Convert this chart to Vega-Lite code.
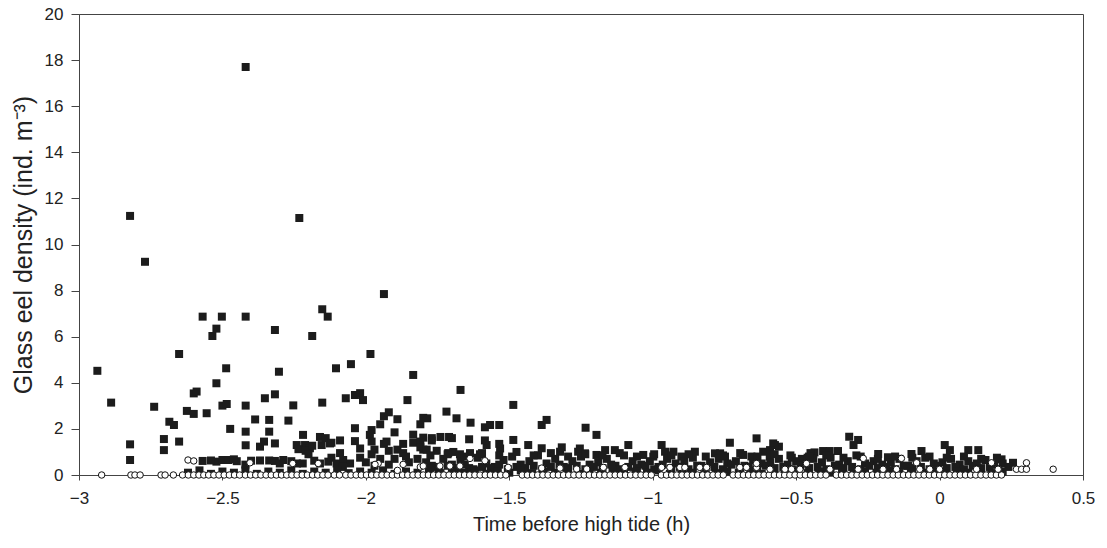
{
  "$schema": "https://vega.github.io/schema/vega-lite/v6.json",
  "width": 1004,
  "height": 461,
  "autosize": "none",
  "padding": {"left": 79, "top": 14, "right": 24, "bottom": 73},
  "background": "white",
  "config": {
    "view": {"stroke": "#444", "strokeWidth": 1},
    "axis": {
      "grid": false,
      "domainColor": "#444",
      "tickColor": "#444",
      "labelFont": "Liberation Sans",
      "titleFont": "Liberation Sans",
      "labelFontSize": 17,
      "titleFontSize": 20,
      "titleFontWeight": "normal",
      "labelColor": "#222",
      "titleColor": "#222",
      "labelFlush": false
    }
  },
  "datasets": {
    "squares": [
      {"time": -2.936, "density": 4.52}, {"time": -2.888, "density": 3.14}, {"time": -2.822, "density": 11.24},
      {"time": -2.77, "density": 9.25}, {"time": -2.822, "density": 1.33}, {"time": -2.822, "density": 0.65},
      {"time": -2.738, "density": 2.96}, {"time": -2.704, "density": 1.56}, {"time": -2.704, "density": 1.08},
      {"time": -2.685, "density": 2.31}, {"time": -2.669, "density": 2.17}, {"time": -2.651, "density": 5.25},
      {"time": -2.651, "density": 1.45}, {"time": -2.624, "density": 2.78}, {"time": -2.6, "density": 3.54},
      {"time": -2.59, "density": 3.62}, {"time": -2.6, "density": 2.65}, {"time": -2.569, "density": 6.87},
      {"time": -2.569, "density": 0.61}, {"time": -2.555, "density": 2.68}, {"time": -2.535, "density": 6.03},
      {"time": -2.521, "density": 6.35}, {"time": -2.521, "density": 3.98}, {"time": -2.521, "density": 0.58},
      {"time": -2.502, "density": 6.87}, {"time": -2.487, "density": 4.63}, {"time": -2.5, "density": 3.01},
      {"time": -2.485, "density": 3.08}, {"time": -2.473, "density": 2.0}, {"time": -2.5, "density": 0.65},
      {"time": -2.48, "density": 0.65}, {"time": -2.419, "density": 17.7}, {"time": -2.419, "density": 6.87},
      {"time": -2.419, "density": 3.01}, {"time": -2.419, "density": 1.88}, {"time": -2.419, "density": 1.29},
      {"time": -2.45, "density": 0.6}, {"time": -2.42, "density": 0.45}, {"time": -2.386, "density": 2.41},
      {"time": -2.369, "density": 1.23}, {"time": -2.355, "density": 1.45}, {"time": -2.369, "density": 0.63},
      {"time": -2.352, "density": 3.33}, {"time": -2.337, "density": 2.39}, {"time": -2.337, "density": 1.88},
      {"time": -2.317, "density": 6.29}, {"time": -2.317, "density": 3.5}, {"time": -2.317, "density": 1.37},
      {"time": -2.337, "density": 0.63}, {"time": -2.317, "density": 0.61}, {"time": -2.3, "density": 0.5},
      {"time": -2.288, "density": 0.65}, {"time": -2.303, "density": 4.48}, {"time": -2.27, "density": 2.36},
      {"time": -2.253, "density": 3.02}, {"time": -2.24, "density": 0.5}, {"time": -2.22, "density": 0.5},
      {"time": -2.241, "density": 1.3}, {"time": -2.212, "density": 1.3}, {"time": -2.195, "density": 1.16},
      {"time": -2.232, "density": 11.15}, {"time": -2.219, "density": 1.74}, {"time": -2.235, "density": 1.12},
      {"time": -2.21, "density": 1.05}, {"time": -2.2, "density": 0.9}, {"time": -2.187, "density": 6.03},
      {"time": -2.187, "density": 1.27}, {"time": -2.16, "density": 1.65}, {"time": -2.14, "density": 1.6},
      {"time": -2.152, "density": 7.19}, {"time": -2.133, "density": 6.87}, {"time": -2.152, "density": 3.14},
      {"time": -2.154, "density": 1.3}, {"time": -2.125, "density": 1.37}, {"time": -2.16, "density": 0.5},
      {"time": -2.131, "density": 0.58}, {"time": -2.12, "density": 1.4}, {"time": -2.12, "density": 0.75},
      {"time": -2.104, "density": 4.63}, {"time": -2.09, "density": 1.5}, {"time": -2.09, "density": 0.95},
      {"time": -2.102, "density": 0.5}, {"time": -2.079, "density": 0.65}, {"time": -2.055, "density": 0.5},
      {"time": -2.08, "density": 0.35}, {"time": -2.07, "density": 3.33}, {"time": -2.052, "density": 4.81},
      {"time": -2.038, "density": 3.47}, {"time": -2.038, "density": 2.03}, {"time": -2.038, "density": 1.47},
      {"time": -2.02, "density": 3.55}, {"time": -2.01, "density": 3.25}, {"time": -2.02, "density": 1.15},
      {"time": -2.02, "density": 0.75}, {"time": -1.984, "density": 5.25}, {"time": -1.98, "density": 1.95},
      {"time": -1.986, "density": 1.74}, {"time": -1.98, "density": 1.45}, {"time": -1.98, "density": 0.9},
      {"time": -1.97, "density": 1.1}, {"time": -1.97, "density": 0.4}, {"time": -1.937, "density": 7.85},
      {"time": -1.937, "density": 2.55}, {"time": -1.92, "density": 2.72}, {"time": -1.937, "density": 1.35},
      {"time": -1.928, "density": 1.45}, {"time": -1.95, "density": 2.2}, {"time": -1.92, "density": 1.05},
      {"time": -1.92, "density": 0.45}, {"time": -1.89, "density": 2.42}, {"time": -1.9, "density": 1.85},
      {"time": -1.9, "density": 0.7}, {"time": -1.89, "density": 1.1}, {"time": -1.87, "density": 1.35},
      {"time": -1.87, "density": 0.95}, {"time": -1.855, "density": 3.25}, {"time": -1.835, "density": 4.34},
      {"time": -1.835, "density": 1.75}, {"time": -1.835, "density": 1.4}, {"time": -1.86, "density": 0.8},
      {"time": -1.82, "density": 0.7}, {"time": -1.81, "density": 2.2}, {"time": -1.8, "density": 2.48},
      {"time": -1.81, "density": 1.45}, {"time": -1.8, "density": 1.1}, {"time": -1.77, "density": 1.5},
      {"time": -1.77, "density": 0.4}, {"time": -1.719, "density": 2.75}, {"time": -1.67, "density": 3.69},
      {"time": -1.684, "density": 2.46}, {"time": -1.786, "density": 2.46}, {"time": -1.635, "density": 2.27},
      {"time": -1.585, "density": 2.07}, {"time": -1.567, "density": 2.17}, {"time": -1.535, "density": 2.17},
      {"time": -1.486, "density": 3.04}, {"time": -1.387, "density": 2.17}, {"time": -1.37, "density": 2.39},
      {"time": -1.234, "density": 2.05}, {"time": -1.196, "density": 1.74}, {"time": -1.8, "density": 1.62},
      {"time": -1.77, "density": 1.6}, {"time": -1.74, "density": 1.65}, {"time": -1.71, "density": 1.65},
      {"time": -1.7, "density": 1.6}, {"time": -1.64, "density": 1.55}, {"time": -1.81, "density": 1.2},
      {"time": -1.788, "density": 1.1}, {"time": -1.753, "density": 1.05}, {"time": -1.713, "density": 0.95},
      {"time": -1.695, "density": 1.0}, {"time": -1.672, "density": 0.9}, {"time": -1.637, "density": 0.95},
      {"time": -1.602, "density": 0.9}, {"time": -1.579, "density": 1.3}, {"time": -1.532, "density": 1.15},
      {"time": -1.585, "density": 1.5}, {"time": -1.535, "density": 1.35}, {"time": -1.486, "density": 1.52},
      {"time": -1.434, "density": 1.3}, {"time": -1.387, "density": 1.16}, {"time": -1.323, "density": 1.01},
      {"time": -1.317, "density": 1.2}, {"time": -1.26, "density": 1.01}, {"time": -1.254, "density": 1.15},
      {"time": -1.236, "density": 0.94}, {"time": -1.196, "density": 0.87}, {"time": -1.085, "density": 1.3},
      {"time": -0.969, "density": 1.3}, {"time": -0.928, "density": 1.01}, {"time": -0.853, "density": 1.01},
      {"time": -0.731, "density": 1.4}, {"time": -0.638, "density": 1.59}, {"time": -0.58, "density": 1.37},
      {"time": -1.166, "density": 1.08}, {"time": -1.132, "density": 1.08}, {"time": -1.033, "density": 0.87},
      {"time": -0.998, "density": 0.8}, {"time": -0.957, "density": 1.01}, {"time": -0.9, "density": 0.8},
      {"time": -0.783, "density": 0.94}, {"time": -0.765, "density": 0.94}, {"time": -0.748, "density": 0.8},
      {"time": -0.685, "density": 0.87}, {"time": -0.656, "density": 0.8}, {"time": -0.615, "density": 1.01},
      {"time": -0.592, "density": 0.8}, {"time": -0.56, "density": 1.23}, {"time": -0.315, "density": 1.66},
      {"time": -0.284, "density": 1.52}, {"time": -0.3, "density": 1.3}, {"time": -0.574, "density": 1.3},
      {"time": -0.591, "density": 1.08}, {"time": 0.018, "density": 1.3}, {"time": 0.036, "density": 1.08},
      {"time": -0.063, "density": 1.04}, {"time": 0.1, "density": 1.08}, {"time": 0.135, "density": 1.08},
      {"time": -0.406, "density": 1.04}, {"time": -0.383, "density": 1.04}, {"time": -0.354, "density": 1.04},
      {"time": -0.436, "density": 0.98}, {"time": -0.45, "density": 0.95}, {"time": -0.214, "density": 0.91},
      {"time": -0.18, "density": 0.77}, {"time": -0.098, "density": 0.91}, {"time": 0.216, "density": 0.68},
      {"time": 0.256, "density": 0.53}, {"time": -0.52, "density": 0.85}, {"time": -0.48, "density": 0.7},
      {"time": -0.46, "density": 0.75},
      {"time": -2.54, "density": 0.63}, {"time": -2.46, "density": 0.68}, {"time": -2.4, "density": 0.62},
      {"time": -2.26, "density": 0.6}, {"time": -2.18, "density": 0.62}, {"time": -2.0, "density": 0.55},
      {"time": -1.95, "density": 0.7}, {"time": -1.85, "density": 0.55},
      {"time": -1.79, "density": 0.55}, {"time": -1.76, "density": 0.35}, {"time": -1.73, "density": 0.7},
      {"time": -1.7, "density": 0.45}, {"time": -1.67, "density": 0.6}, {"time": -1.64, "density": 0.3},
      {"time": -1.61, "density": 0.75}, {"time": -1.58, "density": 0.5}, {"time": -1.55, "density": 0.35},
      {"time": -1.52, "density": 0.65}, {"time": -1.49, "density": 0.8}, {"time": -1.46, "density": 0.45},
      {"time": -1.43, "density": 0.6}, {"time": -1.4, "density": 0.85}, {"time": -1.37, "density": 0.5},
      {"time": -1.34, "density": 0.7}, {"time": -1.31, "density": 0.35}, {"time": -1.28, "density": 0.6},
      {"time": -1.25, "density": 0.8}, {"time": -1.22, "density": 0.45}, {"time": -1.19, "density": 0.55},
      {"time": -1.16, "density": 0.7}, {"time": -1.13, "density": 0.4}, {"time": -1.1, "density": 0.85},
      {"time": -1.07, "density": 0.6}, {"time": -1.04, "density": 0.45}, {"time": -1.01, "density": 0.6},
      {"time": -0.98, "density": 0.35}, {"time": -0.95, "density": 0.7}, {"time": -0.92, "density": 0.5},
      {"time": -0.89, "density": 0.6}, {"time": -0.86, "density": 0.75}, {"time": -0.83, "density": 0.4},
      {"time": -0.8, "density": 0.55}, {"time": -0.77, "density": 0.7}, {"time": -0.74, "density": 0.5},
      {"time": -0.71, "density": 0.6}, {"time": -0.68, "density": 0.4}, {"time": -0.65, "density": 0.65},
      {"time": -0.62, "density": 0.5}, {"time": -0.59, "density": 0.55}, {"time": -0.56, "density": 0.7},
      {"time": -0.53, "density": 0.45}, {"time": -0.5, "density": 0.6}, {"time": -0.47, "density": 0.5},
      {"time": -0.44, "density": 0.7}, {"time": -0.41, "density": 0.55}, {"time": -0.38, "density": 0.75},
      {"time": -0.35, "density": 0.45}, {"time": -0.32, "density": 0.6}, {"time": -0.29, "density": 0.85},
      {"time": -0.26, "density": 0.5}, {"time": -0.23, "density": 0.6}, {"time": -0.2, "density": 0.45},
      {"time": -0.17, "density": 0.55}, {"time": -0.14, "density": 0.7}, {"time": -0.11, "density": 0.4},
      {"time": -0.08, "density": 0.6}, {"time": -0.05, "density": 0.75}, {"time": -0.02, "density": 0.5},
      {"time": 0.01, "density": 0.55}, {"time": 0.04, "density": 0.7}, {"time": 0.07, "density": 0.45},
      {"time": 0.1, "density": 0.6}, {"time": 0.13, "density": 0.5}, {"time": 0.16, "density": 0.65},
      {"time": 0.19, "density": 0.45}, {"time": 0.22, "density": 0.5}, {"time": 0.24, "density": 0.35},
      {"time": -1.775, "density": 0.3}, {"time": -1.745, "density": 0.25}, {"time": -1.715, "density": 0.4},
      {"time": -1.685, "density": 0.3}, {"time": -1.655, "density": 0.45}, {"time": -1.625, "density": 0.25},
      {"time": -1.595, "density": 0.35}, {"time": -1.565, "density": 0.3}, {"time": -1.535, "density": 0.45},
      {"time": -1.505, "density": 0.25}, {"time": -1.475, "density": 0.35}, {"time": -1.445, "density": 0.3},
      {"time": -1.415, "density": 0.4}, {"time": -1.385, "density": 0.25}, {"time": -1.355, "density": 0.35},
      {"time": -1.325, "density": 0.45}, {"time": -1.295, "density": 0.3}, {"time": -1.265, "density": 0.4},
      {"time": -1.235, "density": 0.25}, {"time": -1.205, "density": 0.35}, {"time": -1.175, "density": 0.3},
      {"time": -1.145, "density": 0.45}, {"time": -1.115, "density": 0.25}, {"time": -1.085, "density": 0.35},
      {"time": -1.055, "density": 0.3}, {"time": -1.025, "density": 0.4}, {"time": -0.995, "density": 0.25},
      {"time": -0.965, "density": 0.45}, {"time": -0.935, "density": 0.3}, {"time": -0.905, "density": 0.35},
      {"time": -0.875, "density": 0.25}, {"time": -0.845, "density": 0.4}, {"time": -0.815, "density": 0.3},
      {"time": -0.785, "density": 0.35}, {"time": -0.755, "density": 0.25}, {"time": -0.725, "density": 0.45},
      {"time": -0.695, "density": 0.3}, {"time": -0.665, "density": 0.35}, {"time": -0.635, "density": 0.25},
      {"time": -0.605, "density": 0.4}, {"time": -0.575, "density": 0.3}, {"time": -0.545, "density": 0.35},
      {"time": -0.515, "density": 0.25}, {"time": -0.485, "density": 0.4}, {"time": -0.455, "density": 0.3},
      {"time": -0.425, "density": 0.35}, {"time": -0.395, "density": 0.25}, {"time": -0.365, "density": 0.4},
      {"time": -0.335, "density": 0.3}, {"time": -0.305, "density": 0.35}, {"time": -0.275, "density": 0.25},
      {"time": -0.245, "density": 0.4}, {"time": -0.215, "density": 0.3}, {"time": -0.185, "density": 0.35},
      {"time": -0.155, "density": 0.25}, {"time": -0.125, "density": 0.4}, {"time": -0.095, "density": 0.3},
      {"time": -0.065, "density": 0.35}, {"time": -0.035, "density": 0.25}, {"time": -0.005, "density": 0.4},
      {"time": 0.025, "density": 0.3}, {"time": 0.055, "density": 0.35}, {"time": 0.085, "density": 0.25},
      {"time": 0.115, "density": 0.4}, {"time": 0.145, "density": 0.3}, {"time": 0.175, "density": 0.35},
      {"time": 0.205, "density": 0.25},
      {"time": -1.775, "density": 0.85}, {"time": -1.715, "density": 0.9}, {"time": -1.655, "density": 0.8},
      {"time": -1.595, "density": 0.95}, {"time": -1.535, "density": 0.85}, {"time": -1.475, "density": 1.0},
      {"time": -1.415, "density": 0.85}, {"time": -1.355, "density": 0.95}, {"time": -1.295, "density": 0.8},
      {"time": -1.235, "density": 0.9}, {"time": -1.175, "density": 0.85}, {"time": -1.115, "density": 0.95},
      {"time": -1.055, "density": 0.8}, {"time": -0.995, "density": 0.9}, {"time": -0.935, "density": 0.85},
      {"time": -0.875, "density": 0.9}, {"time": -0.815, "density": 0.8}, {"time": -0.755, "density": 0.85},
      {"time": -0.695, "density": 0.95}, {"time": -0.635, "density": 0.8}, {"time": -0.575, "density": 0.9},
      {"time": -0.515, "density": 0.75}, {"time": -0.455, "density": 0.8}, {"time": -0.395, "density": 0.85},
      {"time": -0.335, "density": 0.75}, {"time": -0.275, "density": 0.8}, {"time": -0.215, "density": 0.7},
      {"time": -0.155, "density": 0.8}, {"time": -0.095, "density": 0.75}, {"time": -0.035, "density": 0.8},
      {"time": 0.025, "density": 0.75}, {"time": 0.085, "density": 0.8}, {"time": 0.145, "density": 0.7},
      {"time": 0.2, "density": 0.75},
      {"time": -2.62, "density": 0.1}, {"time": -2.58, "density": 0.2}, {"time": -2.54, "density": 0.05},
      {"time": -2.5, "density": 0.15}, {"time": -2.46, "density": 0.1}, {"time": -2.42, "density": 0.2},
      {"time": -2.38, "density": 0.05}, {"time": -2.34, "density": 0.15}, {"time": -2.3, "density": 0.1},
      {"time": -2.26, "density": 0.2}, {"time": -2.22, "density": 0.05}, {"time": -2.18, "density": 0.15},
      {"time": -2.14, "density": 0.1}, {"time": -2.1, "density": 0.2}, {"time": -2.06, "density": 0.08},
      {"time": -2.02, "density": 0.15}, {"time": -1.98, "density": 0.1}, {"time": -1.94, "density": 0.2},
      {"time": -1.9, "density": 0.05}, {"time": -1.86, "density": 0.15}, {"time": -1.82, "density": 0.1},
      {"time": -1.78, "density": 0.2}, {"time": -1.74, "density": 0.08}, {"time": -1.7, "density": 0.15},
      {"time": -1.66, "density": 0.1}, {"time": -1.62, "density": 0.2}, {"time": -1.58, "density": 0.05},
      {"time": -1.54, "density": 0.15}, {"time": -1.5, "density": 0.1}, {"time": -1.46, "density": 0.2},
      {"time": -1.42, "density": 0.08}, {"time": -1.38, "density": 0.15}, {"time": -1.34, "density": 0.1},
      {"time": -1.3, "density": 0.2}, {"time": -1.26, "density": 0.05}, {"time": -1.22, "density": 0.15},
      {"time": -1.18, "density": 0.1}, {"time": -1.14, "density": 0.2}, {"time": -1.1, "density": 0.08},
      {"time": -1.06, "density": 0.15}, {"time": -1.02, "density": 0.1}, {"time": -0.98, "density": 0.2},
      {"time": -0.94, "density": 0.05}, {"time": -0.9, "density": 0.15}, {"time": -0.86, "density": 0.1},
      {"time": -0.82, "density": 0.2}, {"time": -0.78, "density": 0.08}, {"time": -0.74, "density": 0.15},
      {"time": -0.7, "density": 0.1}, {"time": -0.66, "density": 0.2}, {"time": -0.62, "density": 0.05},
      {"time": -0.58, "density": 0.15}, {"time": -0.54, "density": 0.1}, {"time": -0.5, "density": 0.2},
      {"time": -0.46, "density": 0.08}, {"time": -0.42, "density": 0.15}, {"time": -0.38, "density": 0.1},
      {"time": -0.34, "density": 0.2}, {"time": -0.3, "density": 0.05}, {"time": -0.26, "density": 0.15},
      {"time": -0.22, "density": 0.1}, {"time": -0.18, "density": 0.2}, {"time": -0.14, "density": 0.08},
      {"time": -0.1, "density": 0.15}, {"time": -0.06, "density": 0.1}, {"time": -0.02, "density": 0.2},
      {"time": 0.02, "density": 0.05}, {"time": 0.06, "density": 0.15}, {"time": 0.1, "density": 0.1},
      {"time": 0.14, "density": 0.2}, {"time": 0.18, "density": 0.08}, {"time": 0.22, "density": 0.15}
    ],
    "circles": [
      {"time": -2.921, "density": 0}, {"time": -2.819, "density": 0}, {"time": -2.805, "density": 0},
      {"time": -2.787, "density": 0}, {"time": -2.714, "density": 0}, {"time": -2.7, "density": 0},
      {"time": -2.671, "density": 0}, {"time": -2.639, "density": 0}, {"time": -2.619, "density": 0},
      {"time": -2.6, "density": 0}, {"time": -2.582, "density": 0}, {"time": -2.565, "density": 0},
      {"time": -2.548, "density": 0}, {"time": -2.53, "density": 0}, {"time": -2.512, "density": 0},
      {"time": -2.494, "density": 0}, {"time": -2.476, "density": 0}, {"time": -2.458, "density": 0},
      {"time": -2.44, "density": 0}, {"time": -2.42, "density": 0}, {"time": -2.402, "density": 0},
      {"time": -2.384, "density": 0}, {"time": -2.366, "density": 0}, {"time": -2.348, "density": 0},
      {"time": -2.33, "density": 0}, {"time": -2.312, "density": 0}, {"time": -2.294, "density": 0},
      {"time": -2.276, "density": 0}, {"time": -2.258, "density": 0}, {"time": -2.24, "density": 0},
      {"time": -2.222, "density": 0}, {"time": -2.204, "density": 0}, {"time": -2.186, "density": 0},
      {"time": -2.168, "density": 0}, {"time": -2.15, "density": 0}, {"time": -2.132, "density": 0},
      {"time": -2.11, "density": 0}, {"time": -2.092, "density": 0}, {"time": -2.07, "density": 0},
      {"time": -2.052, "density": 0}, {"time": -2.034, "density": 0}, {"time": -2.016, "density": 0},
      {"time": -1.998, "density": 0}, {"time": -1.98, "density": 0}, {"time": -1.962, "density": 0},
      {"time": -1.944, "density": 0}, {"time": -1.926, "density": 0}, {"time": -1.908, "density": 0},
      {"time": -1.89, "density": 0}, {"time": -1.872, "density": 0}, {"time": -1.854, "density": 0},
      {"time": -1.836, "density": 0}, {"time": -1.818, "density": 0}, {"time": -1.8, "density": 0},
      {"time": -1.782, "density": 0}, {"time": -1.764, "density": 0}, {"time": -1.746, "density": 0},
      {"time": -1.728, "density": 0}, {"time": -1.71, "density": 0}, {"time": -1.692, "density": 0},
      {"time": -1.674, "density": 0}, {"time": -1.656, "density": 0}, {"time": -1.638, "density": 0},
      {"time": -1.62, "density": 0}, {"time": -1.602, "density": 0}, {"time": -1.584, "density": 0},
      {"time": -1.566, "density": 0}, {"time": -1.548, "density": 0}, {"time": -1.53, "density": 0},
      {"time": -1.512, "density": 0}, {"time": -1.455, "density": 0}, {"time": -1.437, "density": 0},
      {"time": -1.419, "density": 0}, {"time": -1.401, "density": 0}, {"time": -1.383, "density": 0},
      {"time": -1.365, "density": 0}, {"time": -1.347, "density": 0}, {"time": -1.329, "density": 0},
      {"time": -1.311, "density": 0}, {"time": -1.293, "density": 0}, {"time": -1.275, "density": 0},
      {"time": -1.257, "density": 0}, {"time": -1.239, "density": 0}, {"time": -1.221, "density": 0},
      {"time": -1.203, "density": 0}, {"time": -1.185, "density": 0}, {"time": -1.167, "density": 0},
      {"time": -1.149, "density": 0}, {"time": -1.131, "density": 0}, {"time": -1.113, "density": 0},
      {"time": -1.095, "density": 0}, {"time": -1.077, "density": 0}, {"time": -1.059, "density": 0},
      {"time": -1.041, "density": 0}, {"time": -1.023, "density": 0}, {"time": -1.005, "density": 0},
      {"time": -0.97, "density": 0}, {"time": -0.952, "density": 0}, {"time": -0.934, "density": 0},
      {"time": -0.916, "density": 0}, {"time": -0.898, "density": 0}, {"time": -0.88, "density": 0},
      {"time": -0.862, "density": 0}, {"time": -0.844, "density": 0}, {"time": -0.826, "density": 0},
      {"time": -0.808, "density": 0}, {"time": -0.79, "density": 0}, {"time": -0.772, "density": 0},
      {"time": -0.754, "density": 0}, {"time": -0.72, "density": 0}, {"time": -0.702, "density": 0},
      {"time": -0.684, "density": 0}, {"time": -0.666, "density": 0}, {"time": -0.648, "density": 0},
      {"time": -0.63, "density": 0}, {"time": -0.612, "density": 0}, {"time": -0.594, "density": 0},
      {"time": -0.576, "density": 0}, {"time": -0.558, "density": 0}, {"time": -0.54, "density": 0},
      {"time": -0.522, "density": 0}, {"time": -0.504, "density": 0}, {"time": -0.486, "density": 0},
      {"time": -0.468, "density": 0}, {"time": -0.45, "density": 0}, {"time": -0.432, "density": 0},
      {"time": -0.414, "density": 0}, {"time": -0.396, "density": 0}, {"time": -0.36, "density": 0},
      {"time": -0.342, "density": 0}, {"time": -0.324, "density": 0}, {"time": -0.306, "density": 0},
      {"time": -0.288, "density": 0}, {"time": -0.27, "density": 0}, {"time": -0.252, "density": 0},
      {"time": -0.234, "density": 0}, {"time": -0.216, "density": 0}, {"time": -0.198, "density": 0},
      {"time": -0.18, "density": 0}, {"time": -0.162, "density": 0}, {"time": -0.144, "density": 0},
      {"time": -0.126, "density": 0}, {"time": -0.108, "density": 0}, {"time": -0.09, "density": 0},
      {"time": -0.072, "density": 0}, {"time": -0.054, "density": 0}, {"time": -0.036, "density": 0},
      {"time": -0.018, "density": 0}, {"time": 0.0, "density": 0}, {"time": 0.018, "density": 0},
      {"time": 0.036, "density": 0}, {"time": 0.054, "density": 0}, {"time": 0.072, "density": 0},
      {"time": 0.09, "density": 0}, {"time": 0.108, "density": 0}, {"time": 0.126, "density": 0},
      {"time": 0.144, "density": 0}, {"time": 0.162, "density": 0}, {"time": 0.18, "density": 0},
      {"time": 0.198, "density": 0}, {"time": 0.216, "density": 0},
      {"time": -2.62, "density": 0.65}, {"time": -2.6, "density": 0.61}, {"time": -2.404, "density": 0.53},
      {"time": -2.255, "density": 0.5}, {"time": -2.166, "density": 0.5}, {"time": -1.957, "density": 0.5},
      {"time": -1.968, "density": 0.46}, {"time": -1.87, "density": 0.46}, {"time": -1.89, "density": 0.2},
      {"time": -1.81, "density": 0.35}, {"time": -1.8, "density": 0.39}, {"time": -1.742, "density": 0.39},
      {"time": -1.707, "density": 0.39}, {"time": -1.672, "density": 0.39}, {"time": -1.637, "density": 0.72},
      {"time": -1.585, "density": 0.62}, {"time": -1.504, "density": 0.33}, {"time": -1.387, "density": 0.3},
      {"time": -1.323, "density": 0.3}, {"time": -1.265, "density": 0.26}, {"time": -1.23, "density": 0.26},
      {"time": -1.172, "density": 0.33}, {"time": -1.097, "density": 0.33}, {"time": -0.969, "density": 0.33},
      {"time": -0.94, "density": 0.33}, {"time": -0.905, "density": 0.33}, {"time": -0.888, "density": 0.33},
      {"time": -0.836, "density": 0.33}, {"time": -0.812, "density": 0.33}, {"time": -0.696, "density": 0.33},
      {"time": -0.673, "density": 0.33}, {"time": -0.638, "density": 0.33}, {"time": -0.638, "density": 0.5},
      {"time": -0.591, "density": 0.25}, {"time": -0.539, "density": 0.25}, {"time": -0.516, "density": 0.25},
      {"time": -0.487, "density": 0.25}, {"time": -0.382, "density": 0.25}, {"time": -0.284, "density": 0.25},
      {"time": -0.197, "density": 0.25}, {"time": -0.15, "density": 0.25}, {"time": -0.069, "density": 0.25},
      {"time": -0.034, "density": 0.25}, {"time": 0.0, "density": 0.25}, {"time": 0.129, "density": 0.25},
      {"time": 0.204, "density": 0.25}, {"time": 0.268, "density": 0.25}, {"time": 0.286, "density": 0.25},
      {"time": 0.303, "density": 0.25}, {"time": 0.396, "density": 0.25}, {"time": -0.464, "density": 0.5},
      {"time": -0.266, "density": 0.72}, {"time": -0.133, "density": 0.72}, {"time": -0.08, "density": 0.53},
      {"time": 0.181, "density": 0.53}, {"time": 0.303, "density": 0.53}
    ]
  },
  "encoding": {
    "x": {
      "field": "time",
      "type": "quantitative",
      "title": "Time before high tide (h)",
      "scale": {"domain": [-3, 0.5], "nice": false, "zero": false},
      "axis": {
        "values": [-3, -2.5, -2, -1.5, -1, -0.5, 0, 0.5],
        "format": "~g",
        "tickSize": 5,
        "labelPadding": 10,
        "titlePadding": 8
      }
    },
    "y": {
      "field": "density",
      "type": "quantitative",
      "title": "Glass eel density (ind. m⁻³)",
      "scale": {"domain": [0, 20], "nice": false},
      "axis": {
        "values": [0, 2, 4, 6, 8, 10, 12, 14, 16, 18, 20],
        "tickSize": 8,
        "labelPadding": 8,
        "titlePadding": 8,
        "titleFontSize": 25
      }
    }
  },
  "layer": [
    {
      "data": {"name": "squares"},
      "mark": {"type": "square", "size": 64, "color": "#1c1c1c", "opacity": 1}
    },
    {
      "data": {"name": "circles"},
      "mark": {"type": "point", "shape": "circle", "filled": true, "fill": "white", "stroke": "#111", "strokeWidth": 1, "size": 42, "opacity": 1}
    }
  ]
}
